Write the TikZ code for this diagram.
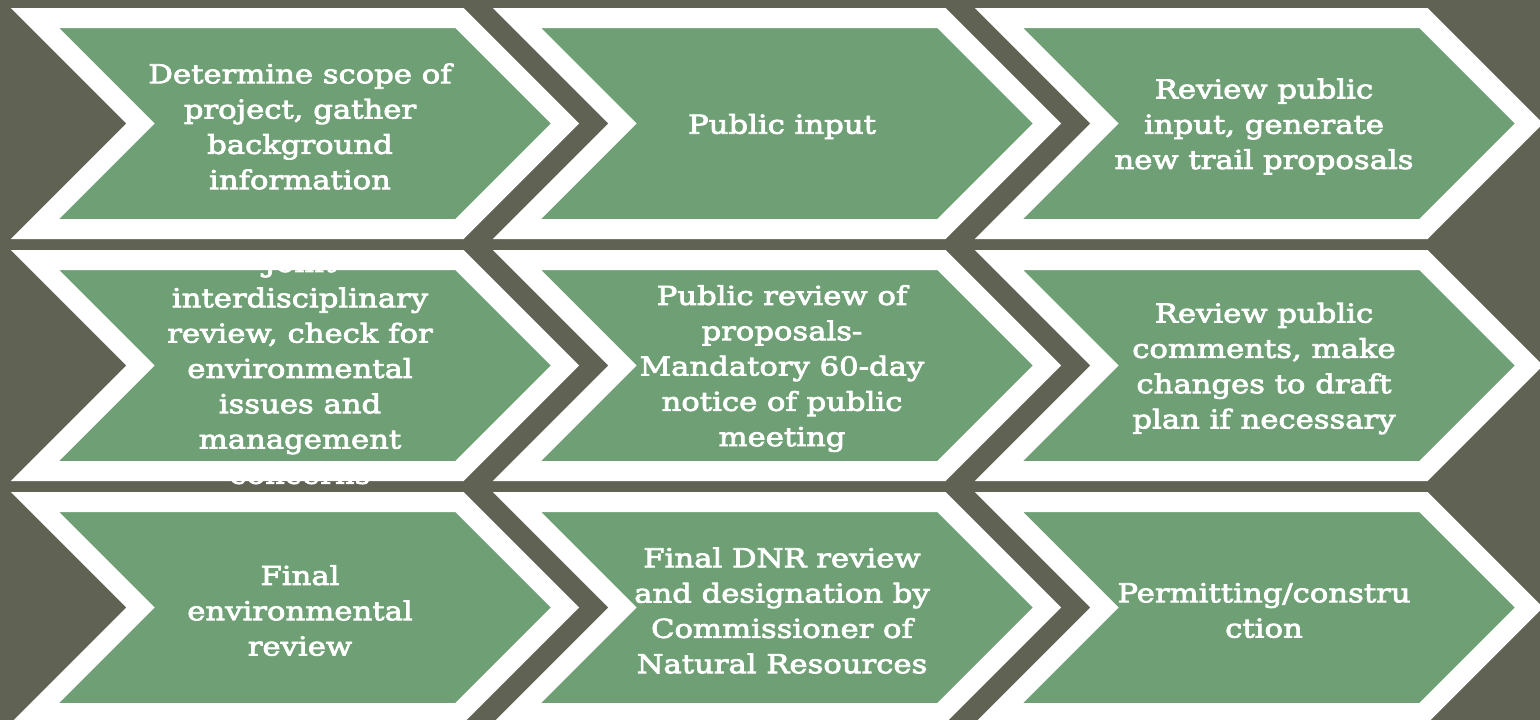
\documentclass[tikz,border=0pt]{standalone}
\usepackage{fontspec}
\setmainfont{DejaVu Serif}[FakeStretch=1.18,FakeBold=3]
\usetikzlibrary{shapes.symbols}
\definecolor{bgolive}{RGB}{96,99,84}
\definecolor{leafgreen}{RGB}{111,160,117}
\tikzset{
  chev/.style={signal, signal from=west, signal to=east, signal pointer angle=90,
    minimum width=530pt, minimum height=211pt, inner sep=0pt,
    fill=leafgreen, draw=white, line width=20pt},
  steptext/.style={text=white, align=center, yshift=-3pt,
    font=\fontsize{26}{35.3}\selectfont}
}

\begin{document}
\begin{tikzpicture}[x=1pt,y=-1pt]
\fill[bgolive] (0,0) rectangle (1540,720);
\useasboundingbox (0,0) rectangle (1540,720);
\node[chev] (c11) at (300,123.5) {};
\node[chev] (c12) at (782,123.5) {};
\node[chev] (c13) at (1264,123.5) {};
\node[chev] (c21) at (300,365.5) {};
\node[chev] (c22) at (782,365.5) {};
\node[chev] (c23) at (1264,365.5) {};
\node[chev] (c31) at (300,607.5) {};
\node[chev] (c32) at (782,607.5) {};
\node[chev] (c33) at (1264,607.5) {};
\node[steptext] (t11) at (c11) {Determine scope of\\project, gather\\background\\information};
\node[steptext] (t12) at (c12) {Public input};
\node[steptext] (t13) at (c13) {Review public\\input, generate\\new trail proposals};
\node[steptext] (t21) at (c21) {Joint\\interdisciplinary\\review, check for\\environmental\\issues and\\management\\concerns};
\node[steptext] (t22) at (c22) {Public review of\\proposals-\\Mandatory 60-day\\notice of public\\meeting};
\node[steptext] (t23) at (c23) {Review public\\comments, make\\changes to draft\\plan if necessary};
\node[steptext] (t31) at (c31) {Final\\environmental\\review};
\node[steptext] (t32) at (c32) {Final DNR review\\and designation by\\Commissioner of\\Natural Resources};
\node[steptext] (t33) at (c33) {Permitting/constru\\ction};
\end{tikzpicture}
\end{document}
